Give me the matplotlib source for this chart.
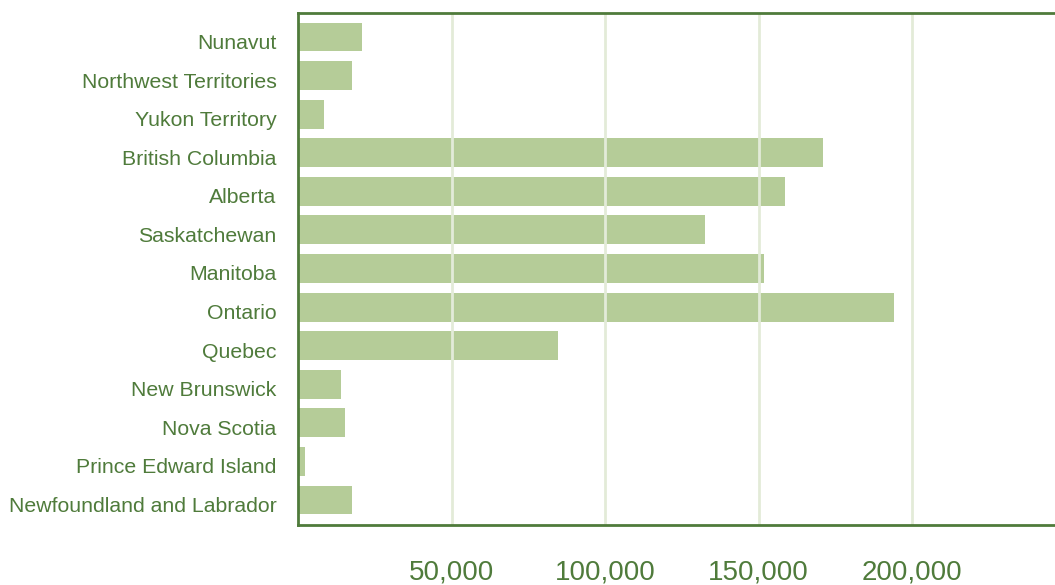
import matplotlib.pyplot as plt
import matplotlib.transforms as mtransforms
from matplotlib.ticker import FuncFormatter

provinces = [
    "Nunavut",
    "Northwest Territories",
    "Yukon Territory",
    "British Columbia",
    "Alberta",
    "Saskatchewan",
    "Manitoba",
    "Ontario",
    "Quebec",
    "New Brunswick",
    "Nova Scotia",
    "Prince Edward Island",
    "Newfoundland and Labrador",
]
values = [20800, 17600, 8500, 171000, 158600, 132600, 151800,
          194100, 84700, 14000, 15300, 2300, 17600]
ticks = [50000, 100000, 150000, 200000]

green = "#4f7b3b"
bar_color = "#b5cc98"
grid_color = "#e3ebd8"

plt.rcParams['font.family'] = ['Liberation Sans', 'DejaVu Sans']

fig = plt.figure(figsize=(10.55, 5.85), dpi=100)
ax = fig.add_axes([298 / 1055, 60 / 585, 767.5 / 1055, 512 / 585])

ypos = range(len(provinces))
ax.barh(ypos, values, height=0.75, color=bar_color, zorder=1)

ax.set_xlim(0, 250000)
ax.set_ylim(12.648, -0.622)

ax.set_xticks(ticks)
ax.xaxis.set_major_formatter(FuncFormatter(lambda v, p: f"{int(v):,}"))
ax.set_yticks(list(ypos))
ax.set_yticklabels(provinces)

ax.grid(axis='x', color=grid_color, linewidth=2, zorder=2)
ax.set_axisbelow(False)
ax.tick_params(axis='x', length=0, pad=25, labelsize=20, labelcolor=green)
ax.tick_params(axis='y', length=0, pad=15.5, labelsize=15.3, labelcolor=green)

# nudge the province names a little below the bar centres
shift = mtransforms.ScaledTranslation(0, -0.045, fig.dpi_scale_trans)
for lbl in ax.get_yticklabels():
    lbl.set_transform(lbl.get_transform() + shift)

for side in ['top', 'bottom', 'left', 'right']:
    ax.spines[side].set_color(green)
    ax.spines[side].set_linewidth(2)
    ax.spines[side].set_zorder(3)

fig.savefig("out.png", dpi=100)
